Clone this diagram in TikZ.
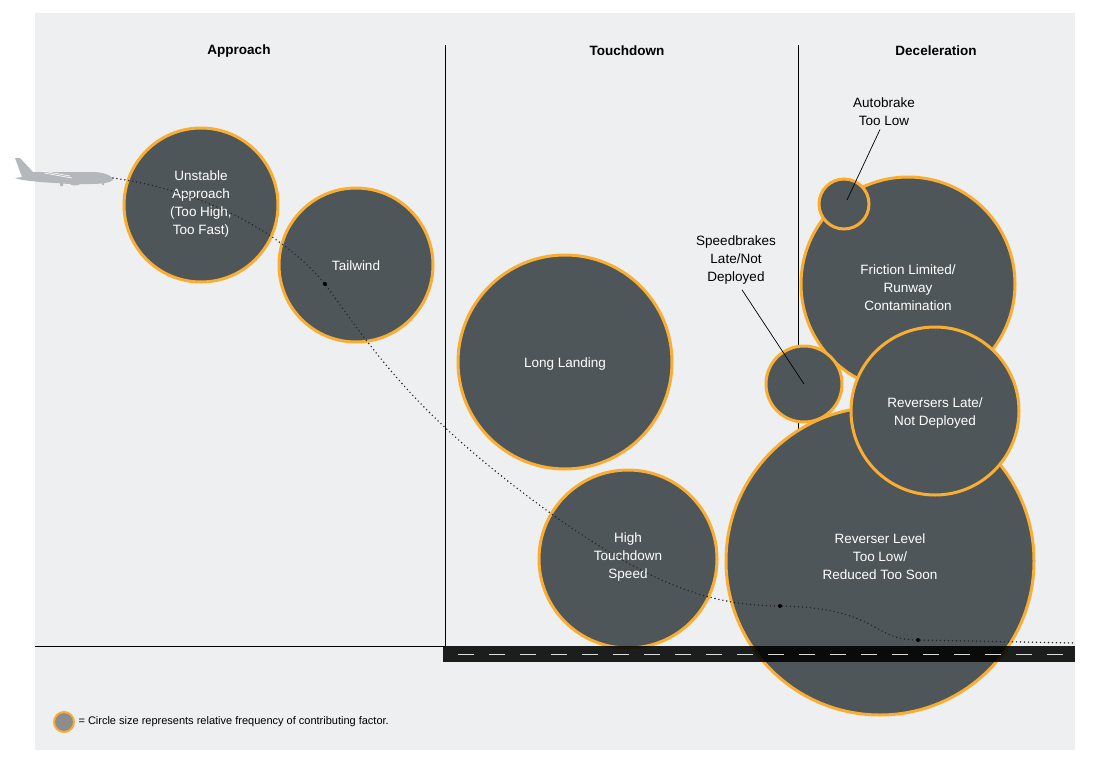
\documentclass[tikz,border=0pt]{standalone}
\usepackage{fontspec}
\setmainfont{Liberation Sans}
\begin{document}
\begin{tikzpicture}[x=1pt,y=-1pt,
  bub/.style={circle,fill=bubfill,draw=bubedge,line width=3pt,inner sep=0pt},
  lab/.style={text=white,font=\fontsize{13.5}{18}\selectfont,align=center},
  blab/.style={text=black,font=\fontsize{13.5}{18}\selectfont,align=center},
  head/.style={font=\bfseries\fontsize{13.5}{16}\selectfont},
  dotline/.style={line width=1.6pt,dash pattern=on 0pt off 4pt,line cap=round,draw=black!85}]
\definecolor{bubfill}{HTML}{4F5659}
\definecolor{bubedge}{HTML}{F9AE33}
\definecolor{bg}{HTML}{EEEFF1}
\definecolor{plane}{HTML}{B5B8BB}
\useasboundingbox (0,0) rectangle (1093,766);
\fill[bg] (35,13) rectangle (1075,750);
% dividers
\draw[line width=0.8pt] (445,45) -- (445,646) (798,45) -- (798,646);
\draw[line width=0.8pt] (35,646) -- (445,646);
\node[head] (h1) at (239,51) {Approach};
\node[head] (h2) at (627,51) {Touchdown};
\node[head] (h3) at (936,51) {Deceleration};
% plane
\fill[plane] (15,158) -- (20,158) -- (33,172) -- (95,172) .. controls (108,173) and (113,177) .. (113,180) .. controls (110,183) and (100,184) .. (90,184) -- (80,184) .. controls (78,186) and (72,186) .. (70,184) -- (40,182) .. controls (30,181) and (20,180) .. (15,178) -- (22,177) -- (15,158) -- cycle;
\fill[plane] (60,182) rectangle (63,186) (102,181) rectangle (104,185);
\draw[white,line width=0.6pt] (42,171) -- (70,176) (44,173) -- (72,178);
% circles
\node[bub,minimum size=154pt] (ua) at (201,205) {};
\node[bub,minimum size=154pt] (tw) at (356,265) {};
\node[bub,minimum size=214pt] (ll) at (565,362) {};
\node[bub,minimum size=178pt] (hts) at (628,559) {};
\node[bub,minimum size=214pt] (fl) at (908,284) {};
\node[bub,minimum size=308pt] (rl) at (880,561) {};
\node[bub,minimum size=76pt] (sb) at (804,384) {};
\node[bub,minimum size=168pt] (rd) at (935,411) {};
\node[bub,minimum size=50pt] (ab) at (844,204) {};
% runway
\fill[black,opacity=0.88] (443,646) rectangle (1075,662);
\foreach \x in {458,489,...,1060} \draw[white,line width=1pt,opacity=0.85] (\x,654) -- (\x+16,654);
% labels
\node[lab] (t1) at (201,204) {Unstable\\Approach\\(Too High,\\Too Fast)};
\node[lab] (t2) at (356,266) {Tailwind};
\node[lab] (t3) at (565,364) {Long Landing};
\node[lab] (t4) at (628,557) {High\\Touchdown\\Speed};
\node[lab] (t5) at (908,288) {Friction Limited/\\Runway\\Contamination};
\node[lab] (t6) at (935,413) {Reversers Late/\\Not Deployed};
\node[lab] (t7) at (880,557) {Reverser Level\\Too Low/\\Reduced Too Soon};
\node[blab] (t8) at (884,112) {Autobrake\\Too Low};
\node[blab] (t9) at (736,260) {Speedbrakes\\Late/Not\\Deployed};
\coordinate (a1) at (847,200);
\coordinate (s1) at (804,384);
\draw[line width=0.7pt] (t8.south) ++(-4,0) -- (a1);
\draw[line width=0.7pt] (t9.south) ++(6,2) -- (s1);
% dotted trajectory
\coordinate (p0) at (113,178);
\coordinate (p1) at (325,284);
\coordinate (p2) at (780,606);
\coordinate (p3) at (918,640);
\coordinate (p4) at (1075,643);
\draw[dotline] (p0) .. controls (200,190) and (280,230) .. (p1) .. controls (380,360) and (420,420) .. (560,520) .. controls (640,575) and (700,606) .. (p2) .. controls (880,608) and (870,640) .. (p3) -- (p4);
\foreach \c in {p1,p2,p3} \fill (\c) circle (2pt);
% legend
\node[circle,fill=black!45,draw=bubedge,line width=2pt,minimum size=20pt,inner sep=0pt] (lg) at (64,722) {};
\node[anchor=west,font=\fontsize{11}{13}\selectfont] (lt) at (75,722) {= Circle size represents relative frequency of contributing factor.};
\end{tikzpicture}
\end{document}
